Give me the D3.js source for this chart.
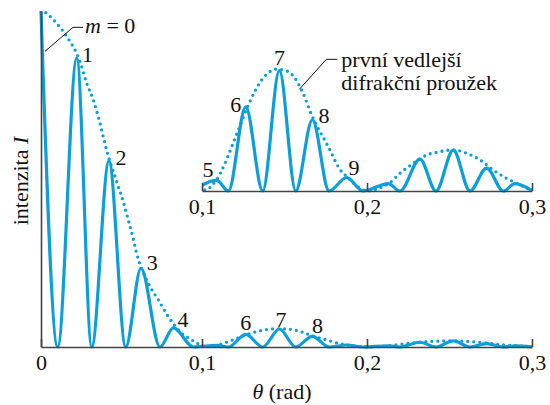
<!DOCTYPE html>
<html>
<head>
<meta charset="utf-8">
<script src="https://cdn.jsdelivr.net/npm/d3@7"></script>
<style>
  body { margin: 0; background: #fff; }
  #chart text { font-family: "Liberation Serif", "Times New Roman", "DejaVu Serif", serif; font-size: 22px; fill: #111; }
</style>
</head>
<body>
<svg id="chart"></svg>
<script>
// fringe maxima and minima (theta in rad, I relative to central max)
const fringeTheta = [0, 0.0104, 0.0222, 0.0315, 0.0422, 0.0526, 0.0621, 0.0739, 0.0822, 0.0947,
                     0.1089, 0.116, 0.1265, 0.1368, 0.1469, 0.1568, 0.1669, 0.177, 0.1877, 0.1975,
                     0.2129, 0.22, 0.2321, 0.2418, 0.2523, 0.2624, 0.2725, 0.2826, 0.2897, 0.3];
const fringeI = [1, 0, 0.86, 0, 0.554, 0, 0.234, 0, 0.057, 0,
                 0.0047, 0, 0.0374, 0, 0.0536, 0, 0.0317, 0, 0.006, 0,
                 0.0033, 0, 0.0142, 0, 0.0182, 0, 0.0102, 0, 0.0033, 0.0002];

// diffraction envelope (dotted)
const envTheta = [0.003, 0.0098, 0.016, 0.0242, 0.0284, 0.0325, 0.0356, 0.0408, 0.047, 0.0511,
                  0.0542, 0.057, 0.0594, 0.0666, 0.0729, 0.0791, 0.0874, 0.0936, 0.0998,
                  0.1018, 0.1079, 0.122, 0.1281, 0.1362, 0.1453, 0.1523, 0.1604, 0.1665, 0.1765,
                  0.1847, 0.1877, 0.1935, 0.2,
                  0.207, 0.2139, 0.22, 0.2281, 0.2362, 0.2442, 0.2523, 0.2604, 0.2685, 0.2766,
                  0.2847, 0.2908, 0.3];
const envI = [0.995, 0.963, 0.924, 0.85, 0.785, 0.735, 0.685, 0.585, 0.492, 0.432,
              0.378, 0.328, 0.279, 0.19, 0.14, 0.09, 0.041, 0.021, 0.004,
              0.0004, 0.0041, 0.0271, 0.0383, 0.0494, 0.0542, 0.0531, 0.0449, 0.0338, 0.0197,
              0.0085, 0.0065, 0.0025, 0,
              0.0012, 0.0037, 0.0079, 0.0123, 0.016, 0.0175, 0.0183, 0.0168, 0.0138, 0.0093,
              0.0056, 0.0034, 0.0002];

const mainTicks = [0, 0.1, 0.2, 0.3];
const mainTickLabels = ["0", "0,1", "0,2", "0,3"];
const insetTicks = [0.1, 0.2, 0.3];
const insetTickLabels = ["0,1", "0,2", "0,3"];

const mainOrders = ["1", "2", "3", "4", "6", "7", "8"];
const mainOrderTheta = [0.0222, 0.0422, 0.0621, 0.0822, 0.1265, 0.1469, 0.1669];
const insetOrders = ["5", "6", "7", "8", "9"];
const insetOrderTheta = [0.1089, 0.1265, 0.1469, 0.1669, 0.1877];

// label nudges (px) relative to the peak they mark
const mainOffsets = [[10.8, 3.7], [12, 4.3], [11.3, 1.7], [9.7, -1.1], [0, -4.4], [1.5, -2.3], [5, -3.3]];
const insetOffsets = [[-8.7, -3.8], [-10, 4.7], [0, -5.5], [11.7, 3], [7.3, -2.5]];

const width = 550, height = 405;
const blue = "#0a9fdc", axisCol = "#444";
const serif = '"Liberation Serif", "Times New Roman", "DejaVu Serif", serif';

const svg = d3.select("#chart").attr("width", width).attr("height", height)
  .attr("font-family", serif);

const x = d3.scaleLinear().domain([0, 0.1, 0.2, 0.3]).range([41, 202, 367, 532]);
const xIn = d3.scaleLinear().domain([0.1, 0.2, 0.3]).range([202, 367, 532]);
const yMain = d3.scaleLinear().domain([0, 1]).range([347, 11]);
const yInset = d3.scaleLinear().domain([0, 0.0536]).range([191, 70.5]);

const fringe = d3.zip(fringeTheta, fringeI);
const env = d3.zip(envTheta, envI);
const peakI = t => fringeI[fringeTheta.indexOf(t)];

const lineMain = d3.line().x(d => x(d[0])).y(d => yMain(d[1])).curve(d3.curveMonotoneX);
const lineInset = d3.line().x(d => x(d[0])).y(d => yInset(d[1])).curve(d3.curveMonotoneX);

// clip for inset
svg.append("defs").append("clipPath").attr("id", "insetClip")
  .append("rect").attr("x", xIn(0.1)).attr("y", 0)
  .attr("width", xIn(0.3) - xIn(0.1)).attr("height", height);

// ---- main plot
svg.append("path").datum(env)
  .attr("d", lineMain).attr("fill", "none").attr("stroke", blue)
  .attr("stroke-width", 3.3).attr("stroke-linecap", "round").attr("stroke-dasharray", "0 6");

svg.append("path").datum(fringe)
  .attr("d", lineMain).attr("fill", "none").attr("stroke", blue).attr("stroke-width", 3.2);

// ---- inset
const inset = svg.append("g").attr("clip-path", "url(#insetClip)");
inset.append("path").datum(env.filter(d => d[0] >= 0.09))
  .attr("d", lineInset).attr("fill", "none").attr("stroke", blue)
  .attr("stroke-width", 3.3).attr("stroke-linecap", "round").attr("stroke-dasharray", "0 6");
inset.append("path").datum(fringe.filter(d => d[0] >= 0.09))
  .attr("d", lineInset).attr("fill", "none").attr("stroke", blue).attr("stroke-width", 3.2);

// ---- axes
function styleAxis(g, labels) {
  g.attr("font-family", serif).attr("font-size", 22);
  g.select(".domain").attr("stroke", axisCol).attr("stroke-width", 1.6);
  g.selectAll(".tick line").attr("stroke", axisCol).attr("stroke-width", 1.6);
  g.selectAll(".tick text").attr("dy", null).attr("y", 23)
    .text((d, i) => labels[i]).attr("fill", "#111");
}

svg.append("g").attr("transform", `translate(0,${yMain(0)})`)
  .call(d3.axisBottom(x).tickValues(mainTicks).tickSizeInner(-8).tickSizeOuter(0))
  .call(g => styleAxis(g, mainTickLabels));

svg.append("g").attr("transform", `translate(${x(0)},0)`)
  .call(d3.axisLeft(yMain).ticks(0).tickSizeOuter(0))
  .call(g => g.select(".domain").attr("stroke", axisCol).attr("stroke-width", 1.6));

svg.append("g").attr("transform", `translate(0,${yInset(0)})`)
  .call(d3.axisBottom(xIn).tickValues(insetTicks).tickSizeInner(-8).tickSizeOuter(0))
  .call(g => styleAxis(g, insetTickLabels));

// ---- axis titles
const xt = svg.append("text").attr("x", 282).attr("y", 399).attr("text-anchor", "middle");
xt.append("tspan").attr("font-style", "italic").text("θ");
xt.append("tspan").text(" (rad)");

const yt = svg.append("text").attr("transform", "translate(28,181) rotate(-90)").attr("text-anchor", "middle");
yt.append("tspan").text("intenzita ");
yt.append("tspan").attr("font-style", "italic").text("I");

// ---- order labels
svg.selectAll("text.ordMain").data(mainOrders).enter().append("text")
  .attr("class", "ordMain").attr("text-anchor", "middle")
  .attr("x", (d, i) => x(mainOrderTheta[i]) + mainOffsets[i][0])
  .attr("y", (d, i) => yMain(peakI(mainOrderTheta[i])) + mainOffsets[i][1])
  .text(d => d);

svg.selectAll("text.ordInset").data(insetOrders).enter().append("text")
  .attr("class", "ordInset").attr("text-anchor", "middle")
  .attr("x", (d, i) => x(insetOrderTheta[i]) + insetOffsets[i][0])
  .attr("y", (d, i) => yInset(peakI(insetOrderTheta[i])) + insetOffsets[i][1])
  .text(d => d);

// ---- m = 0 callout
const m0x = x(0.0025), m0y = yMain(0.88);
svg.append("path")
  .attr("d", `M${m0x},${m0y} L${m0x + 28},${m0y - 24} L${m0x + 38},${m0y - 24}`)
  .attr("fill", "none").attr("stroke", "#111").attr("stroke-width", 1);
const mt = svg.append("text").attr("x", m0x + 40).attr("y", m0y - 18);
mt.append("tspan").attr("font-style", "italic").text("m");
mt.append("tspan").text(" = 0");

// ---- envelope callout
const ex = x(0.1584) + 1, ey = yInset(0.047) + 4;
svg.append("path")
  .attr("d", `M${ex},${ey} L${ex + 27},${ey - 30} L${ex + 38},${ey - 30}`)
  .attr("fill", "none").attr("stroke", "#111").attr("stroke-width", 1);
svg.append("text").attr("x", ex + 42).attr("y", ey - 22).text("první vedlejší");
svg.append("text").attr("x", ex + 42).attr("y", ey + 1).text("difrakční proužek");
</script>
</body>
</html>
